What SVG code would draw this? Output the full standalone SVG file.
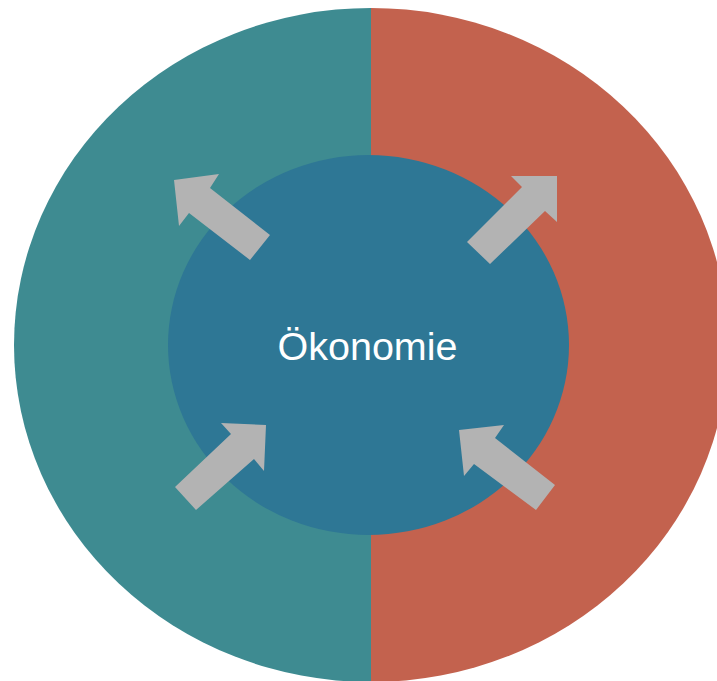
<svg xmlns="http://www.w3.org/2000/svg" width="717" height="681" viewBox="0 0 717 681">
<style>
.arrow{fill:#B3B3B3}
.label{font-family:"Liberation Sans",Arial,sans-serif;font-size:39.5px;fill:#FFFFFF;text-anchor:middle}
</style>
<rect width="717" height="681" fill="#FFFFFF"/>
<g id="left-half"><path d="M371,8 A357,337 0 0 0 371,682 Z" fill="#3E8B91"/></g>
<g id="right-half"><path d="M371,8 A357,337 0 0 1 371,682 Z" fill="#C3624E"/></g>
<g id="oekonomie">
<ellipse cx="368.5" cy="345" rx="200.5" ry="190" fill="#2E7795"/>
<text class="label" x="367.5" y="360">Ökonomie</text>
</g>
<g id="connectors">
<polygon class="arrow" points="174,180 219,174 210,188 270,235 250,260 189,213 179,226"/>
<polygon class="arrow" points="557,176 557,222 545,211 490,264 467,242 522,187 511,176"/>
<polygon class="arrow" points="266,425 264,471 254,459 196,510 175,487 231,434 221,423"/>
<polygon class="arrow" points="459,430 504,425 495,438 555,485 536,510 474,464 464,476"/>
</g>
</svg>
